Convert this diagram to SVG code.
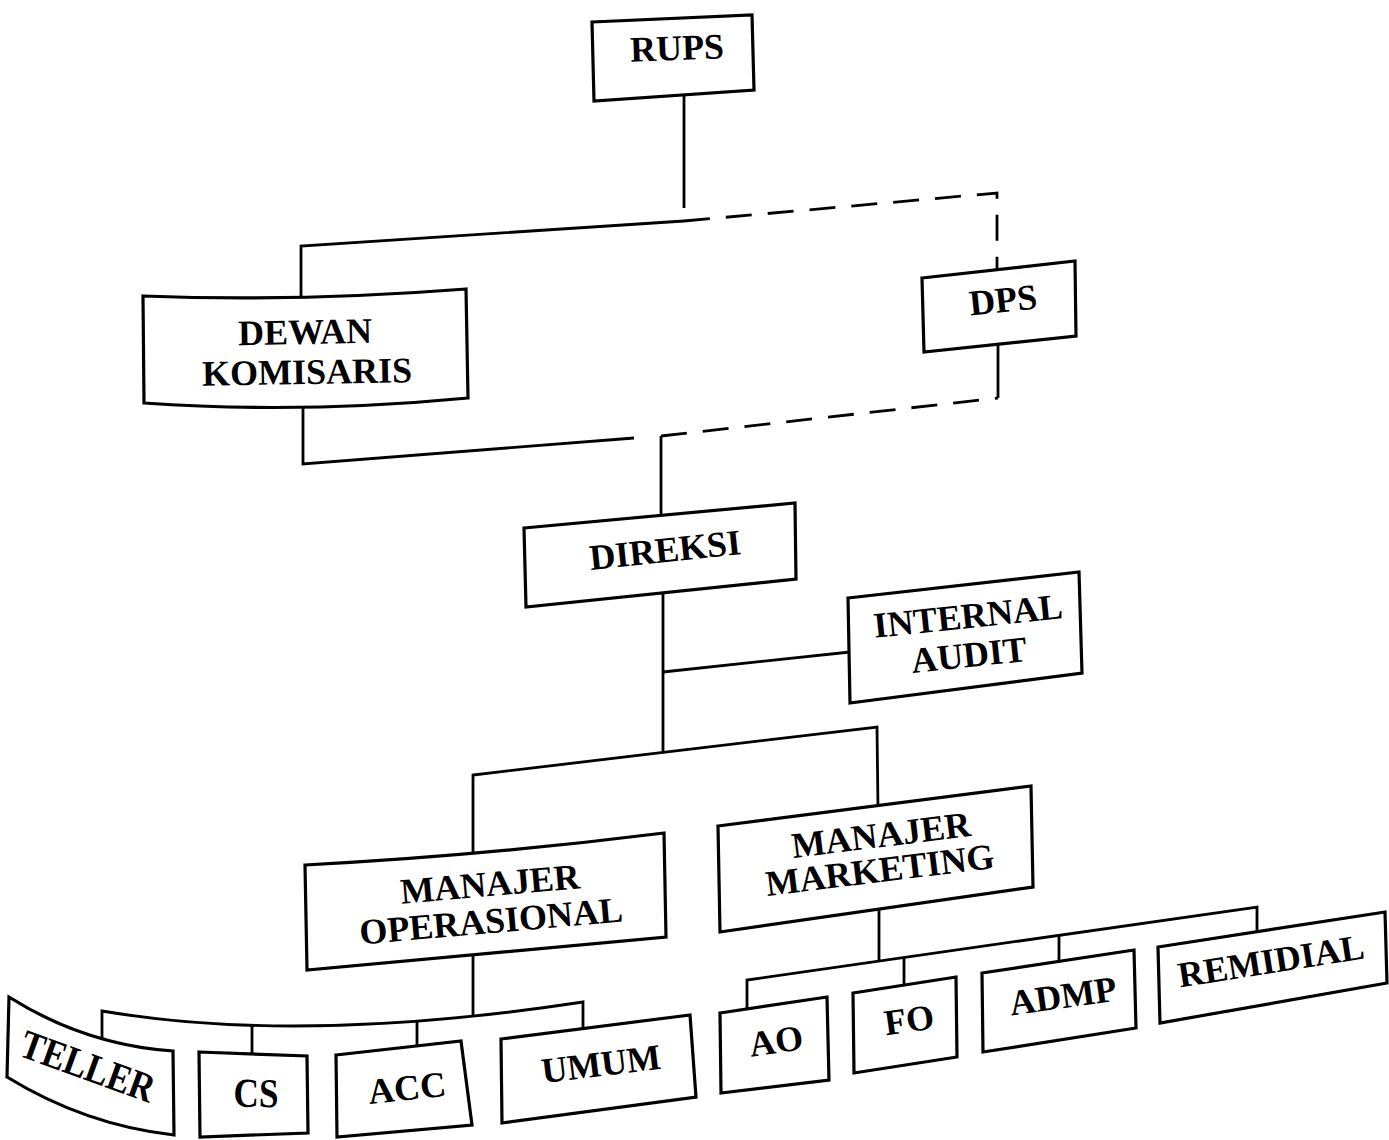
<svg xmlns="http://www.w3.org/2000/svg" width="1389" height="1140" viewBox="0 0 1389 1140">
<style>
.box{fill:#fff;stroke:#000;stroke-width:3.2;stroke-linejoin:miter}
.ln{fill:none;stroke:#000;stroke-width:2.8}
.dash{stroke-dasharray:26 16}
text{font-family:"Liberation Serif","Times New Roman",serif;font-weight:bold;font-size:36px;text-anchor:middle;fill:#000}
.tall{font-size:41px}
</style>
<rect width="1389" height="1140" fill="#fff"/>
<g id="connectors">
<path class="ln" d="M684,95 L684,208"/>
<path class="ln" d="M301,300 L301,246 L684,221"/>
<path class="ln dash" d="M684,221 L997,193 L997,272"/>
<path class="ln" d="M998,340 L998,398"/>
<path class="ln dash" d="M661,436 L998,398"/>
<path class="ln" d="M303,400 L303,464 L634,438"/>
<path class="ln" d="M661,436 L661,520"/>
<path class="ln" d="M663,590 L663,752"/>
<path class="ln" d="M663,672 L850,652"/>
<path class="ln" d="M473,856 L473,775 L877,727 L878,810"/>
<path class="ln" d="M473,950 L473,1016"/>
<path class="ln" d="M102,1042 L102,1011 Q300,1045 583,1002 L583,1033"/>
<path class="ln" d="M252,1025 L252,1056"/>
<path class="ln" d="M417,1021 L417,1048"/>
<path class="ln" d="M879,905 L879,961"/>
<path class="ln" d="M747,1012 L747,980 L1257,907 L1257,932"/>
<path class="ln" d="M904,958 L904,988"/>
<path class="ln" d="M1059,935 L1059,965"/>
</g>
<g id="rups"><polygon class="box" points="592,22 752,15 754,90 594,101"/><text x="677" y="60" transform="rotate(-2 677 48)">RUPS</text></g>
<g id="dps"><polygon class="box" points="922,278 1075,261 1076,336 924,352"/><text x="1003" y="312" transform="rotate(-6 1003 300)">DPS</text></g>
<g id="dewan-komisaris"><path class="box" d="M143,296 Q300,302 466,289 L468,398 Q300,414 144,403 Z"/><text x="305" y="344" transform="rotate(-1 305 332)">DEWAN</text><text x="307" y="384" transform="rotate(-1 307 372)">KOMISARIS</text></g>
<g id="direksi"><polygon class="box" points="524,528 795,503 796,579 526,607"/><text x="665" y="562" transform="rotate(-6 665 550)">DIREKSI</text></g>
<g id="internal-audit"><polygon class="box" points="848,598 1079,572 1082,673 850,703"/><text x="968" y="628" transform="rotate(-6 968 616)">INTERNAL</text><text x="969" y="667" transform="rotate(-6 969 655)">AUDIT</text></g>
<g id="manajer-operasional"><path class="box" d="M305,865 Q480,856 664,833 L666,937 L307,970 Z"/><text x="490" y="896" transform="rotate(-5 490 884)">MANAJER</text><text x="491" y="933" transform="rotate(-5 491 921)">OPERASIONAL</text></g>
<g id="manajer-marketing"><polygon class="box" points="718,826 1031,786 1033,887 720,932"/><text x="881" y="847" transform="rotate(-7 881 835)">MANAJER</text><text x="880" y="882" transform="rotate(-7 880 870)">MARKETING</text></g>
<g id="teller"><path class="box" d="M9,997 Q85,1045 173,1051 L174,1135 Q85,1125 7,1077 Z"/><text class="tall" x="0" y="14" transform="translate(88 1066) rotate(20) scale(0.84 1)">TELLER</text></g>
<g id="cs"><polygon class="box" points="199,1052 307,1056 308,1133 200,1137"/><text class="tall" x="0" y="14" transform="translate(256 1093) rotate(1) scale(0.86 1)">CS</text></g>
<g id="acc"><polygon class="box" points="336,1055 461,1041 472,1125 337,1137"/><text x="407" y="1100" transform="rotate(-6 407 1088)">ACC</text></g>
<g id="umum"><polygon class="box" points="501,1039 690,1015 696,1097 502,1123"/><text x="601" y="1076" transform="rotate(-7 601 1064)">UMUM</text></g>
<g id="ao"><polygon class="box" points="720,1013 827,997 829,1080 721,1093"/><text x="776" y="1053" transform="rotate(-8 776 1040)" font-size="38">AO</text></g>
<g id="fo"><polygon class="box" points="853,993 956,977 957,1057 854,1073"/><text x="909" y="1032" transform="rotate(-8 909 1019)" font-size="38">FO</text></g>
<g id="admp"><polygon class="box" points="982,973 1134,950 1136,1028 983,1052"/><text x="1063" y="1008" transform="rotate(-8 1063 996)">ADMP</text></g>
<g id="remidial"><polygon class="box" points="1158,947 1385,912 1387,983 1160,1023"/><text x="1271" y="973" transform="rotate(-9 1271 961)">REMIDIAL</text></g>
</svg>
